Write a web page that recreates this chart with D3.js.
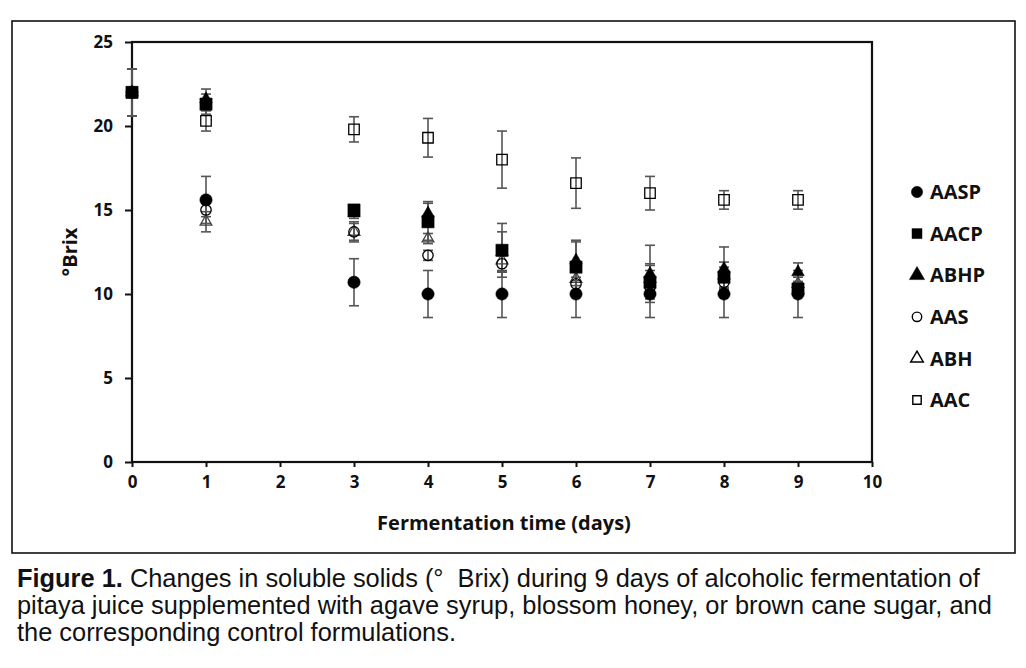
<!doctype html>
<html>

<head>
  <meta charset="utf-8">
  <title>Brix</title>
  <style>
    body { margin: 0; background: #fff; }
    svg { display: block; }
  </style>
</head>

<body>
  <svg width="1026" height="668"></svg>

  <script src="https://d3js.org/d3.v7.min.js"></script>
  <script>
    // data
    const days = [0, 1, 3, 4, 5, 6, 7, 8, 9];
    const seriesNames = ['AASP', 'AACP', 'ABHP', 'AAS', 'ABH', 'AAC'];

    const aasp = [22.0, 15.6, 10.7, 10.0, 10.0, 10.0, 10.0, 10.0, 10.0];
    const aaspSd = [1.4, 1.4, 1.4, 1.4, 1.4, 1.4, 1.4, 1.4, 1.4];
    const aacp = [22.0, 21.3, 15.0, 14.3, 12.6, 11.6, 10.7, 11.0, 10.3];
    const aacpSd = [1.4, 0.6, 0.3, 1.1, 1.6, 1.5, 1.0, 0.6, 0.4];
    const abhp = [22.0, 21.6, 14.8, 14.8, 12.5, 12.0, 11.2, 11.5, 11.3];
    const abhpSd = [1.4, 0.6, 0.3, 0.7, 1.2, 1.2, 1.7, 1.3, 0.55];
    const aas = [22.0, 15.0, 13.7, 12.3, 11.8, 10.6, 10.4, 10.7, 10.2];
    const aasSd = [1.4, 0.4, 0.5, 0.3, 0.5, 0.4, 0.4, 0.4, 0.3];
    const abh = [22.0, 14.3, 13.7, 13.3, 12.0, 10.9, 10.9, 11.1, 10.6];
    const abhSd = [1.4, 0.6, 0.6, 0.3, 0.7, 0.4, 0.9, 0.8, 0.4];
    const aac = [22.0, 20.3, 19.8, 19.3, 18.0, 16.6, 16.0, 15.6, 15.6];
    const aacSd = [1.4, 0.6, 0.75, 1.15, 1.7, 1.5, 1.0, 0.55, 0.55];

    const xTicks = [0, 1, 2, 3, 4, 5, 6, 7, 8, 9, 10];
    const yTicks = [0, 5, 10, 15, 20, 25];

    const captionLines = [
      ['Figure 1.', ' Changes in soluble solids (°\u00a0 Brix) during 9 days of alcoholic fermentation of'],
      ['', 'pitaya juice supplemented with agave syrup, blossom honey, or brown cane sugar, and'],
      ['', 'the corresponding control formulations.']
    ];

    const series = [
      { name: 'AASP', mean: aasp, sd: aaspSd, shape: d3.symbolCircle, filled: true, size: 120 },
      { name: 'AACP', mean: aacp, sd: aacpSd, shape: d3.symbolSquare, filled: true, size: 150 },
      { name: 'ABHP', mean: abhp, sd: abhpSd, shape: d3.symbolTriangle, filled: true, size: 70 },
      { name: 'AAS', mean: aas, sd: aasSd, shape: d3.symbolCircle, filled: false, size: 85 },
      { name: 'ABH', mean: abh, sd: abhSd, shape: d3.symbolTriangle, filled: false, size: 60 },
      { name: 'AAC', mean: aac, sd: aacSd, shape: d3.symbolSquare, filled: false, size: 110 }
    ];

    const svg = d3.select('svg');
    const font = '"Open Sans", "Noto Sans", sans-serif';

    // outer frame
    svg.append('rect')
      .attr('x', 12).attr('y', 21)
      .attr('width', 1003).attr('height', 532)
      .attr('fill', 'none')
      .attr('stroke', '#111')
      .attr('stroke-width', 1.6);

    const margin = { top: 42, left: 132 };
    const width = 740;
    const height = 420;
    const g = svg.append('g').attr('transform', `translate(${margin.left}, ${margin.top})`);

    const x = d3.scaleLinear().domain([0, 10]).range([0, width]);
    const y = d3.scaleLinear().domain([0, 25]).range([height, 0]);

    // plot box
    g.append('rect')
      .attr('width', width).attr('height', height)
      .attr('fill', 'none')
      .attr('stroke', '#111')
      .attr('stroke-width', 2.2);

    // axes
    const xAxis = g.append('g')
      .attr('transform', `translate(0, ${height})`)
      .call(d3.axisBottom(x).tickValues(xTicks).tickSize(5).tickPadding(9).tickFormat(d3.format('d')));
    const yAxis = g.append('g')
      .call(d3.axisLeft(y).tickValues(yTicks).tickSize(7).tickPadding(12).tickFormat(d3.format('d')));

    [xAxis, yAxis].forEach(a => {
      a.select('.domain').remove();
      a.selectAll('line').attr('stroke', '#111').attr('stroke-width', 2);
      a.selectAll('text')
        .attr('fill', '#111')
        .style('font-family', font)
        .style('font-size', '17px')
        .style('font-weight', 700);
    });

    // axis titles
    g.append('text')
      .attr('x', width / 2 + 2)
      .attr('y', height + 68)
      .attr('text-anchor', 'middle')
      .style('font-family', font)
      .style('font-size', '20px')
      .style('font-weight', 700)
      .attr('fill', '#111')
      .text('Fermentation time (days)');

    g.append('text')
      .attr('transform', `translate(${77 - margin.left}, ${height / 2}) rotate(-90)`)
      .attr('text-anchor', 'middle')
      .style('font-family', font)
      .style('font-size', '20px')
      .style('font-weight', 700)
      .attr('fill', '#111')
      .text('°Brix');

    // error bars + markers, open series first so filled ones sit on top
    const drawOrder = series.slice().reverse();
    const sym = d3.symbol();

    drawOrder.forEach(s => {
      const pts = days.map((d, i) => ({ day: d, m: s.mean[i], sd: s.sd[i] }));
      const eb = g.append('g')
        .attr('stroke', '#555')
        .attr('stroke-width', 1.6);
      pts.forEach(p => {
        const cx = x(p.day);
        eb.append('line')
          .attr('x1', cx).attr('x2', cx)
          .attr('y1', y(p.m + p.sd)).attr('y2', y(p.m - p.sd));
        [p.m + p.sd, p.m - p.sd].forEach(v => {
          eb.append('line')
            .attr('x1', cx - 5).attr('x2', cx + 5)
            .attr('y1', y(v)).attr('y2', y(v));
        });
      });
    });

    drawOrder.forEach(s => {
      const pts = days.map((d, i) => ({ day: d, m: s.mean[i] }));
      g.append('g')
        .selectAll('path')
        .data(pts)
        .join('path')
        .attr('transform', p => `translate(${x(p.day)}, ${y(p.m)})`)
        .attr('d', sym.type(s.shape).size(s.size)())
        .attr('fill', s.filled ? '#000' : 'none')
        .attr('stroke', s.name === 'ABH' ? '#444' : '#000')
        .attr('stroke-width', s.filled ? 0.5 : 1.3);
    });

    // legend
    const legend = svg.append('g').attr('transform', 'translate(917, 192)');
    const rows = legend.selectAll('g')
      .data(series)
      .join('g')
      .attr('transform', (d, i) => `translate(0, ${i * 41.6})`);

    rows.append('path')
      .attr('d', d => d3.symbol().type(d.shape).size(d.filled ? 100 : 70)())
      .attr('fill', d => d.filled ? '#000' : '#fff')
      .attr('stroke', '#000')
      .attr('stroke-width', d => d.filled ? 0.5 : 1.4);

    rows.append('text')
      .attr('x', 13)
      .attr('dy', '0.36em')
      .style('font-family', font)
      .style('font-size', '20px')
      .style('font-weight', 700)
      .attr('fill', '#111')
      .text(d => d.name);

    // caption
    const cap = svg.append('text')
      .style('font-family', '"Liberation Sans", Arial, sans-serif')
      .style('font-size', '25.4px')
      .attr('fill', '#111');

    captionLines.forEach((line, i) => {
      const t = cap.append('tspan')
        .attr('x', 17)
        .attr('y', 587 + i * 27);
      if (line[0]) t.append('tspan').style('font-weight', 700).text(line[0]);
      t.append('tspan').text(line[1]);
    });
  </script>
</body>

</html>
